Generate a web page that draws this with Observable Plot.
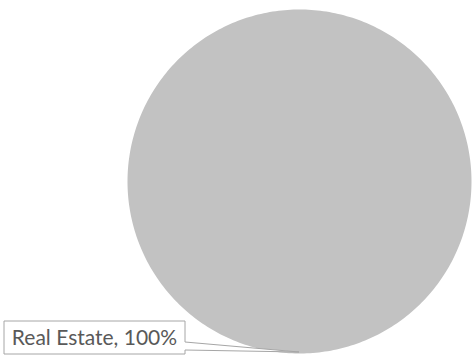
<!DOCTYPE html>
<html>
<head>
<meta charset="utf-8">
<script src="https://cdn.jsdelivr.net/npm/d3@7"></script>
<script src="https://cdn.jsdelivr.net/npm/@observablehq/plot@0.6"></script>
<style>
  html, body { margin: 0; padding: 0; background: #fff; }
  #chart { width: 472px; height: 356px; }
</style>
</head>
<body>
<div id="chart"></div>
<script>
// ---- data ----
const categories = ["Real Estate"];
const values = [100];
const sliceColors = ["#c2c2c2"];
const labelText = categories.map((c, i) => `${c}, ${Math.round(values[i] / d3.sum(values) * 100)}%`);

// ---- pie geometry derived from data ----
const arcs = d3.pie().sort(null)(values);
const polyPoints = [];
arcs.forEach((a, i) => {
  const cat = categories[i];
  polyPoints.push({cat, x: 0, y: 0});
  const steps = Math.max(2, Math.ceil((a.endAngle - a.startAngle) / (Math.PI / 180)));
  for (let k = 0; k <= steps; k++) {
    const t = a.startAngle + (a.endAngle - a.startAngle) * k / steps;
    polyPoints.push({cat, x: Math.sin(t), y: Math.cos(t)});
  }
  polyPoints.push({cat, x: 0, y: 0});
});

// callout label mark (function mark using the plot's scales)
function callouts(index, scales, values_, dims) {
  const g = d3.create("svg:g");
  arcs.forEach((a, i) => {
    const mid = (a.startAngle + a.endAngle) / 2;
    const tx = scales.x(Math.sin(mid));
    const ty = scales.y(Math.cos(mid)) - 1;
    const bw = 181, bh = 33;
    const right = tx - 114, left = right - bw;
    const bottom = ty + 2, top = bottom - bh;
    const p1 = bottom - 12, p2 = bottom - 4;
    g.append("path")
      .attr("d", `M${left},${top}H${right}V${p1}L${tx},${ty}L${right},${p2}V${bottom}H${left}Z`)
      .attr("fill", "#fff")
      .attr("stroke", "#a6a6a6")
      .attr("stroke-width", 1);
    g.append("text")
      .attr("x", (left + right) / 2)
      .attr("y", top + bh / 2)
      .attr("dy", "0.36em")
      .attr("text-anchor", "middle")
      .attr("fill", "#595959")
      .attr("font-family", "Lato, 'Open Sans', sans-serif")
      .attr("font-size", 21)
      .text(labelText[i]);
  });
  return g.node();
}

const plot = Plot.plot({
  width: 472,
  height: 356,
  marginLeft: 127,
  marginRight: 1,
  marginTop: 9,
  marginBottom: 3,
  x: {domain: [-1, 1], axis: null},
  y: {domain: [-1, 1], axis: null},
  color: {domain: categories, range: sliceColors},
  marks: [
    Plot.line(polyPoints, {x: "x", y: "y", z: "cat", fill: "cat", stroke: null, curve: "linear"}),
    callouts
  ]
});
document.getElementById("chart").appendChild(plot);
</script>
</body>
</html>
